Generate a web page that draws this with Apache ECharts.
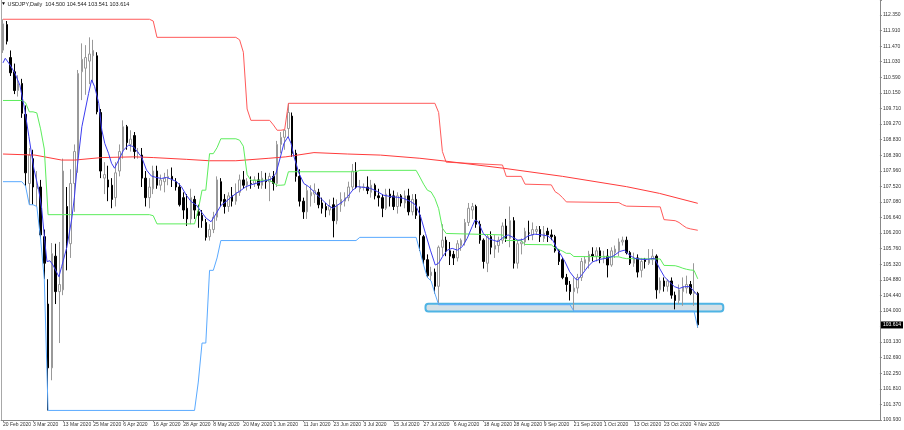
<!DOCTYPE html>
<html><head><meta charset="utf-8">
<script src="https://cdn.jsdelivr.net/npm/echarts@6/dist/echarts.min.js"></script>
<style>html,body{margin:0;padding:0;background:#fff}#c{width:904px;height:430px}</style>
</head><body><div id="c"></div>
<script>
const header = 'USDJPY,Daily  104.500 104.544 103.541 103.614';
const xTickLabels = ['20 Feb 2020','3 Mar 2020','13 Mar 2020','25 Mar 2020','6 Apr 2020','16 Apr 2020','28 Apr 2020','8 May 2020','20 May 2020','1 Jun 2020','11 Jun 2020','23 Jun 2020','3 Jul 2020','15 Jul 2020','27 Jul 2020','6 Aug 2020','18 Aug 2020','28 Aug 2020','9 Sep 2020','21 Sep 2020','1 Oct 2020','13 Oct 2020','23 Oct 2020','4 Nov 2020'];
const yTickLabels = ['100.930','101.370','101.810','102.250','102.690','103.130','103.560','104.000','104.440','104.880','105.320','105.760','106.200','106.640','107.080','107.520','107.960','108.390','108.830','109.270','109.710','110.150','110.590','111.030','111.470','111.910','112.350'];
// daily bars: [open, high, low, close]
const ohlc = [
[111.36,112.23,111.28,112.10],[112.08,112.18,111.52,111.61],[111.15,111.35,110.63,110.72],[110.75,110.98,110.12,110.22],[110.22,110.65,110.05,110.42],
[110.42,110.55,109.45,109.58],[109.55,109.8,107.53,107.9],[107.6,108.6,107.0,108.4],[108.3,108.55,107.0,107.5],[107.45,107.95,106.95,107.55],
[107.5,107.7,106.05,106.15],[106.1,106.3,104.9,105.35],[104.2,104.9,101.2,102.4],[102.4,105.92,102.05,105.62],[105.55,105.9,104.2,104.55],
[104.55,105.95,103.1,104.75],[104.6,108.3,104.45,107.95],[106.95,107.5,105.15,105.9],[105.9,108.0,105.5,107.6],[107.6,108.7,106.8,108.5],
[108.4,110.8,107.9,110.7],[110.75,111.55,109.95,111.1],[110.85,111.5,110.1,111.15],[111.05,111.72,110.4,111.25],[111.2,111.65,110.45,111.35],
[111.2,111.3,109.55,109.62],[109.6,109.7,107.75,107.95],[107.75,108.2,107.3,107.85],[107.7,108.1,107.1,107.5],[107.55,107.75,106.9,107.15],
[107.2,108.2,106.95,107.9],[107.95,108.7,107.8,108.5],[108.55,109.38,108.3,109.2],[109.2,109.25,108.55,108.75],[108.7,109.1,108.5,108.85],
[108.95,109.05,108.3,108.5],[108.45,108.6,108.3,108.48],[108.4,108.6,107.5,107.75],[107.75,107.95,106.95,107.2],[107.2,107.75,106.9,107.5],
[107.45,108.1,107.3,107.95],[107.95,108.1,107.45,107.55],[107.55,107.85,107.4,107.7],[107.65,107.9,107.35,107.75],[107.75,108.0,107.55,107.8],
[107.8,108.05,107.5,107.7],[107.65,107.75,107.4,107.5],[107.5,107.6,106.95,107.0],[107.2,107.35,106.6,106.85],[106.9,107.3,106.4,106.6],
[106.6,107.45,106.45,107.2],[107.15,107.25,106.6,106.85],[106.8,107.0,106.35,106.7],[106.7,106.85,106.35,106.55],[106.5,106.6,105.99,106.08],
[106.1,106.45,105.99,106.3],[106.3,106.8,106.2,106.65],[106.65,107.8,106.55,107.7],[107.65,107.75,106.95,107.1],[107.15,107.3,106.75,106.95],
[106.95,107.35,106.8,107.25],[107.25,107.5,106.95,107.1],[107.1,107.6,107.0,107.35],[107.35,107.85,107.25,107.7],[107.7,107.95,107.45,107.55],
[107.55,107.75,107.4,107.65],[107.6,107.8,107.45,107.6],[107.6,107.8,107.5,107.7],[107.7,107.9,107.45,107.55],[107.55,107.95,107.45,107.75],
[107.7,107.9,107.45,107.65],[107.65,107.9,107.1,107.8],[107.8,107.95,107.4,107.6],[107.6,108.8,107.5,108.7],[108.7,109.05,108.45,108.9],
[108.9,109.12,108.55,109.1],[109.15,109.86,108.9,109.6],[109.5,109.6,108.35,108.45],[108.45,108.55,107.65,107.8],[107.8,108.0,106.95,107.1],
[107.1,107.2,106.6,106.8],[106.8,107.55,106.6,107.4],[107.25,107.55,106.95,107.35],[107.3,107.6,107.05,107.4],[107.35,107.45,106.9,107.0],
[107.05,107.2,106.75,106.9],[106.95,107.05,106.65,106.85],[106.85,107.15,106.7,106.95],[107.0,107.2,106.08,106.55],[106.55,107.15,106.45,107.0],
[107.0,107.35,106.8,107.15],[107.1,107.35,106.95,107.2],[107.2,107.65,107.1,107.5],[107.5,108.15,107.4,107.95],[107.95,108.2,107.45,107.5],
[107.45,107.7,107.35,107.5],[107.5,107.6,107.4,107.5],[107.5,107.8,107.3,107.4],[107.35,107.7,107.2,107.55],[107.55,107.6,107.15,107.25],
[107.25,107.45,106.95,107.2],[107.2,107.3,106.65,106.9],[106.9,107.45,106.85,107.3],[107.3,107.45,106.95,107.2],[107.25,107.4,106.85,106.95],
[106.95,107.35,106.75,107.25],[107.25,107.3,106.95,107.05],[107.05,107.4,106.9,107.25],[107.25,107.45,106.7,106.8],[106.8,107.3,106.7,107.15],
[107.15,107.3,106.6,106.7],[106.7,106.95,105.7,106.15],[106.1,106.15,105.3,105.45],[105.45,105.6,104.95,105.0],[105.0,105.25,104.85,105.1],
[105.1,105.2,104.5,104.7],[104.7,105.85,104.18,105.8],[105.8,106.45,105.55,106.0],[106.0,106.1,105.55,105.7],[105.7,105.95,105.3,105.55],
[105.6,105.7,105.3,105.5],[105.5,106.0,105.4,105.9],[105.85,106.05,105.7,106.0],[105.95,106.6,105.85,106.5],[106.5,107.05,106.4,106.9],
[106.85,107.05,106.6,106.95],[106.95,107.0,106.35,106.45],[106.45,106.55,105.9,106.0],[106.0,106.05,105.2,105.4],[105.35,106.15,105.1,106.1],
[106.1,106.25,105.6,105.8],[105.75,106.15,105.5,105.85],[105.85,106.1,105.65,106.0],[106.0,106.5,105.9,106.4],[106.4,106.6,105.95,106.05],
[106.05,106.95,105.8,106.55],[106.55,106.65,105.2,105.35],[105.35,106.0,105.2,105.9],[105.9,106.05,105.6,105.95],[105.95,106.35,105.85,106.25],
[106.2,106.55,106.0,106.2],[106.15,106.5,106.0,106.3],[106.25,106.4,106.15,106.3],[106.3,106.4,105.95,106.1],[106.05,106.4,105.95,106.2],
[106.25,106.35,105.95,106.15],[106.15,106.3,106.0,106.1],[106.1,106.15,105.65,105.7],[105.7,105.75,105.3,105.4],[105.45,105.5,104.9,104.95],
[104.95,105.05,104.55,104.75],[104.75,104.85,104.3,104.55],[104.55,104.95,104.0,104.65],[104.65,105.05,104.5,104.95],[104.95,105.5,104.85,105.4],
[105.35,105.55,105.15,105.45],[105.4,105.7,105.2,105.6],[105.6,105.8,105.4,105.55],[105.55,105.8,105.4,105.7],[105.7,105.8,105.35,105.5],
[105.5,105.7,105.35,105.55],[105.55,105.75,104.95,105.3],[105.3,105.8,105.25,105.7],[105.65,105.85,105.5,105.75],[105.7,106.05,105.55,105.95],
[105.95,106.1,105.85,106.0],[106.0,106.1,105.6,105.65],[105.65,105.7,105.3,105.35],[105.35,105.65,105.25,105.5],[105.5,105.6,104.95,105.1],
[105.15,105.5,104.95,105.4],[105.45,105.5,105.2,105.4],[105.35,105.75,105.3,105.45],[105.45,105.75,105.3,105.55],[105.55,105.6,104.35,104.6],
[104.6,104.95,104.5,104.85],[104.85,104.95,104.55,104.7],[104.7,104.9,104.55,104.85],[104.85,104.95,104.35,104.45],[104.45,104.55,104.05,104.3],
[104.3,104.75,104.2,104.6],[104.55,104.95,104.15,104.7],[104.65,105.0,104.5,104.75],[104.75,104.85,104.45,104.5],[104.5,105.35,104.15,104.55],
[104.5,104.544,103.541,103.614]
];
// indicator lines: [bar index, price] vertices
const upperChannel = [[0,112.23],[39,112.23],[40,112.18],[41,111.72],[62,111.72],[63,111.65],[64,111.3],[65,109.7],[66,109.38],[71,109.38],[72,109.25],[73,109.1],[74,109.1],[75,109.12],[76,109.86],[115,109.86],[116,109.6],[117,108.5],[118,108.2],[133,108.12],[134,107.8],[138,107.8],[139,107.58],[146,107.56],[147,107.37],[148,107.3],[149,107.2],[150,107.08],[164,107.06],[165,107.0],[166,106.96],[175,106.94],[176,106.58],[179,106.55],[180,106.5],[181,106.42],[182,106.35],[183,106.32],[184,106.3],[185,106.28]];
const lowerChannel = [[0,107.65],[5,107.65],[6,107.53],[7,107.0],[8,107.0],[9,106.95],[10,106.05],[11,104.9],[12,101.2],[51,101.2],[52,102.0],[53,103.1],[54,103.1],[55,105.15],[56,105.15],[57,105.5],[58,105.99],[94,105.99],[95,106.08],[110,106.08],[111,105.7],[112,105.3],[113,104.95],[114,104.85],[115,104.5],[116,104.18],[151,104.18],[152,104.0],[184,104.0],[185,103.54]];
const midChannel = [[0,109.94],[5,109.94],[6,109.88],[7,109.62],[8,109.62],[9,109.59],[10,109.14],[11,108.57],[12,106.72],[39,106.72],[40,106.69],[41,106.46],[51,106.46],[52,106.86],[53,107.41],[54,107.41],[55,108.44],[56,108.44],[57,108.61],[58,108.86],[62,108.86],[63,108.82],[64,108.65],[65,107.85],[66,107.69],[71,107.69],[72,107.62],[73,107.55],[74,107.55],[75,107.56],[76,107.93],[94,107.93],[95,107.97],[110,107.97],[111,107.78],[112,107.58],[113,107.41],[114,107.36],[115,107.18],[116,106.89],[117,106.34],[118,106.19],[133,106.15],[134,105.99],[138,105.99],[139,105.88],[146,105.87],[147,105.78],[148,105.74],[149,105.69],[150,105.63],[151,105.63],[152,105.54],[164,105.53],[165,105.5],[166,105.48],[175,105.47],[176,105.29],[179,105.28],[180,105.25],[181,105.21],[182,105.18],[183,105.16],[184,105.15],[185,104.91]];
const slowMA = [[0,108.43],[8.5,108.4],[15.6,108.26],[19.1,108.26],[26.3,108.33],[35,108.35],[40,108.33],[48.8,108.28],[55,108.24],[62,108.24],[70.8,108.31],[75.3,108.35],[82.8,108.47],[91.8,108.43],[100.5,108.4],[111,108.31],[117.8,108.23],[133.2,108.03],[149,107.8],[166,107.51],[174.8,107.32],[185,107.04]];
const fastMA = [[0,111.0],[0.6,111.13],[1.9,110.94],[3.2,110.7],[4.5,110.37],[5.8,109.67],[6.9,108.92],[8.2,108.03],[9.5,107.42],[10.3,106.9],[11.1,106.0],[11.7,105.4],[12.5,105.42],[13.3,105.3],[14.9,104.97],[15.6,105.25],[17,105.8],[18.3,106.6],[19,107.2],[19.6,107.9],[21,109.2],[22.8,110.14],[23.6,110.52],[24.4,110.33],[25.5,109.86],[26.3,109.11],[27.1,108.73],[28.1,108.45],[28.9,108.17],[29.7,108.03],[30.8,108.26],[32.1,108.54],[33.4,108.68],[34.7,108.64],[36.1,108.45],[36.9,108.35],[38.2,107.98],[39.5,107.81],[40.8,107.77],[42.2,107.74],[43.5,107.77],[44.8,107.72],[46.2,107.65],[47.5,107.51],[48.8,107.27],[50.1,107.09],[51.5,106.99],[52.8,106.8],[54.1,106.62],[55.4,106.52],[56.8,106.76],[58.1,106.99],[59.4,107.09],[60.7,107.21],[62.1,107.32],[63.4,107.41],[64.7,107.51],[66,107.56],[67.4,107.6],[68.7,107.65],[70,107.68],[71.4,107.72],[72.7,107.89],[74,108.4],[74.8,108.73],[75.9,108.92],[76.7,108.73],[77.5,108.35],[78.8,107.89],[80.1,107.6],[81.4,107.51],[82.8,107.37],[84.6,107.18],[86.5,106.99],[87.8,106.9],[89.1,106.99],[90.5,107.09],[91.8,107.23],[93.1,107.41],[94.4,107.51],[96,107.49],[97.9,107.46],[99.7,107.37],[101.3,107.27],[103.2,107.23],[105,107.21],[106.6,107.18],[108.5,107.09],[109.8,107.0],[111.1,106.7],[112.5,106.19],[113.8,105.72],[115.1,105.3],[116,105.35],[117,105.53],[118.3,105.72],[119.6,105.77],[121,105.72],[122.3,105.82],[123.6,106.05],[124.9,106.38],[125.7,106.57],[126.5,106.52],[127.9,106.19],[129.2,106.05],[130.5,106.0],[131.8,105.96],[133.2,106.08],[134.5,106.15],[135.8,106.08],[137.1,106.0],[138.5,106.02],[139.8,106.12],[141.6,106.17],[143.5,106.15],[145.1,106.12],[146.4,106.0],[147.7,105.72],[148.3,105.63],[149.6,105.4],[150.9,105.11],[152.3,104.92],[153,104.88],[154.4,105.06],[155.7,105.25],[157,105.39],[158.9,105.46],[160.7,105.49],[162.3,105.54],[164.2,105.68],[165.5,105.72],[166.8,105.58],[168.2,105.49],[170,105.46],[171.6,105.46],[173.5,105.49],[174.8,105.21],[176.1,104.97],[177.4,104.83],[178.8,104.69],[180.1,104.64],[181.4,104.69],[182.8,104.69],[184.1,104.55],[184.9,104.45]];
// highlighted zone: [fromBar, topPrice, toBar, bottomPrice]
const supportZone = [[112.5, 104.21, 191.8, 103.99]];
const lastClose = 103.614;

const N_SLOTS = 234;
const Y_MIN = 100.93;
const Y_STEP = (112.35 - 100.93) / 26;
const Y_MAX = 112.773;
const FONT = '"Liberation Sans", Arial, sans-serif';
const slots = Array.from({length: N_SLOTS}, (_, i) => String(i));
const showTick = (i) => i % 8 === 0 && i / 8 < xTickLabels.length;

const chart = echarts.init(document.getElementById('c'), null, {renderer: 'canvas'});
const lineSeries = (name, data, color, z) => ({
  name, type: 'line', xAxisIndex: 1, yAxisIndex: 0, data, showSymbol: false, symbol: 'none',
  lineStyle: {color, width: 1}, z, silent: true, animation: false
});
chart.setOption({
  animation: false,
  backgroundColor: '#ffffff',
  title: {
    text: '{t|▼} ' + header, left: 1, top: 1, padding: 0,
    textStyle: {fontSize: 5.5, color: '#222', fontWeight: 'normal', fontFamily: FONT,
      rich: {t: {fontSize: 5, color: '#000'}}}
  },
  grid: {left: 0, right: 24, top: 0, bottom: 10, containLabel: false},
  xAxis: [
    {type: 'category', data: slots, boundaryGap: true,
      axisLine: {show: true, lineStyle: {color: '#888', width: 1}},
      axisTick: {show: true, interval: showTick, alignWithLabel: true, length: 2, lineStyle: {color: '#888'}},
      axisLabel: {interval: showTick, formatter: (v, i) => xTickLabels[i / 8] || '', fontSize: 5, color: '#333', align: 'left', margin: 2, fontFamily: FONT},
      splitLine: {show: false}},
    {type: 'value', min: -0.5, max: N_SLOTS - 0.5, show: false}
  ],
  yAxis: [
    {type: 'value', min: Y_MIN, max: Y_MAX, position: 'right', axisLine: {show: false}, axisTick: {show: false}, axisLabel: {show: false}, splitLine: {show: false}},
    {type: 'value', min: 0, max: (Y_MAX - Y_MIN) / Y_STEP, interval: 1, position: 'right',
      axisLine: {show: true, lineStyle: {color: '#888'}},
      axisTick: {show: true, length: 2, lineStyle: {color: '#888'}},
      axisLabel: {formatter: (v) => {
          const k = Math.round(v);
          if (Math.abs(v - k) > 1e-6 || k === 6) return '';
          return yTickLabels[k] || '';
        }, fontSize: 5, color: '#333', margin: 3, fontFamily: FONT},
      splitLine: {show: false}},
    {type: 'value', min: 0, max: 1, position: 'left', axisLine: {show: true, lineStyle: {color: '#a8a8a8'}}, axisTick: {show: false}, axisLabel: {show: false}, splitLine: {show: false}}
  ],
  series: [
    {type: 'custom', xAxisIndex: 1, yAxisIndex: 0, data: supportZone, z: 1, silent: true,
      encode: {x: [0, 2], y: [1, 3]},
      renderItem: (params, api) => {
        const a = api.coord([api.value(0), api.value(1)]);
        const b = api.coord([api.value(2), api.value(3)]);
        return {type: 'rect', shape: {x: a[0], y: a[1], width: b[0] - a[0], height: b[1] - a[1], r: 3},
          style: {fill: '#d5e0e6', stroke: '#4fb4e4', lineWidth: 2}};
      }},
    {type: 'candlestick', xAxisIndex: 0, yAxisIndex: 0, z: 2, barWidth: 2,
      data: ohlc.map(([o, h, l, c]) => [o, c, l, h]),
      itemStyle: {color: '#ffffff', color0: '#000000', borderColor: '#999999', borderColor0: '#000000', borderWidth: 1},
      markLine: {symbol: 'none', silent: true, animation: false, z: 10,
        data: [{yAxis: lastClose}], lineStyle: {color: 'rgba(0,0,0,0)', width: 0, opacity: 1},
        label: {show: true, position: 'end', opacity: 1, formatter: lastClose.toFixed(3), backgroundColor: '#000', color: '#fff', fontSize: 5, padding: [1, 2, 1, 2], distance: 1, fontFamily: FONT}}},
    lineSeries('upper', upperChannel, '#ff5a5a', 3),
    lineSeries('slowMA', slowMA, '#ff3b3b', 3),
    lineSeries('mid', midChannel, '#5ced5c', 3),
    lineSeries('lower', lowerChannel, '#5aaaff', 3),
    lineSeries('fastMA', fastMA, '#3c3cf0', 4)
  ]
});
</script></body></html>
